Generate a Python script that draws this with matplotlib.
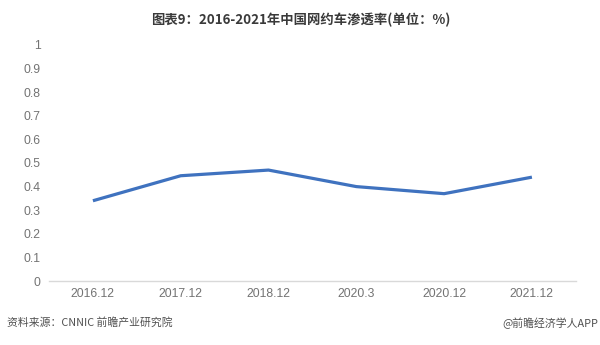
import matplotlib.pyplot as plt

plt.rcParams['font.family'] = ['Liberation Sans', 'Noto Sans CJK SC', 'DejaVu Sans']

# data
periods = ["2016.12", "2017.12", "2018.12", "2020.3", "2020.12", "2021.12"]
penetration = [0.34, 0.446, 0.47, 0.40, 0.37, 0.44]
y_ticks = [0, 0.1, 0.2, 0.3, 0.4, 0.5, 0.6, 0.7, 0.8, 0.9, 1]
y_tick_labels = ["0", "0.1", "0.2", "0.3", "0.4", "0.5", "0.6", "0.7", "0.8", "0.9", "1"]

title = "图表9：2016-2021年中国网约车渗透率(单位：%)"
source = "资料来源：CNNIC 前瞻产业研究院"
credit = "@前瞻经济学人APP"


def main():
    fig = plt.figure(figsize=(6, 3.45), dpi=100)
    ax = fig.add_axes([0.0817, 0.1855, 0.878, 0.6841])

    x = list(range(len(periods)))
    ax.plot(x, penetration, color="#3f72bf", linewidth=2.3, solid_capstyle="butt")

    ax.set_xlim(-0.5, len(periods) - 0.5)
    ax.set_ylim(0, 1)
    ax.set_xticks(x)
    ax.set_xticklabels(periods)
    ax.set_yticks(y_ticks)
    ax.set_yticklabels(y_tick_labels)
    ax.tick_params(axis="both", length=0, labelsize=8.8, labelcolor="#737373")
    ax.tick_params(axis="x", pad=5)
    ax.tick_params(axis="y", pad=6)

    for side in ["top", "right", "left"]:
        ax.spines[side].set_visible(False)
    ax.spines["bottom"].set_color("#d9d9d9")
    ax.spines["bottom"].set_linewidth(1.0)

    fig.text(0.502, 0.942, title, ha="center", va="center", fontsize=9.6,
             fontweight="bold", color="#3a3a3a",
             family=["Noto Sans CJK SC", "DejaVu Sans"])
    fig.text(0.012, 0.064, source, ha="left", va="center", fontsize=7.8,
             color="#505050", family=["Noto Sans CJK SC", "DejaVu Sans"])
    fig.text(0.997, 0.064, credit, ha="right", va="center", fontsize=7.8,
             color="#505050", family=["Noto Sans CJK SC", "DejaVu Sans"])

    fig.savefig("out.png", dpi=100)


if __name__ == "__main__":
    main()
